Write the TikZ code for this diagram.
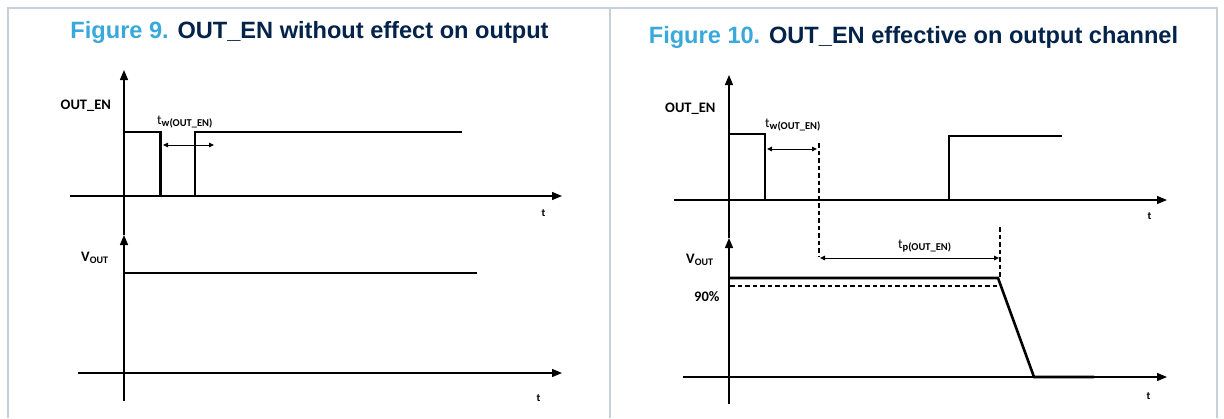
\documentclass[tikz,border=0pt]{standalone}
\usepackage{fontspec}
\setmainfont{Liberation Sans}
\newfontfamily\calib{Carlito}
\usetikzlibrary{arrows.meta}
\definecolor{stblue}{HTML}{39A9DC}
\definecolor{stnavy}{HTML}{03234B}
\definecolor{framec}{HTML}{C5D0D7}
\newcommand{\subtxt}[1]{\raisebox{-2.5pt}{\fontsize{10.5}{10}\selectfont\bfseries #1}}
\newcommand{\voutsub}{\raisebox{-2pt}{\fontsize{10}{10}\selectfont\bfseries OUT}}
\begin{document}
\begin{tikzpicture}[x=1pt,y=-1pt,
 axis/.style={line width=1.3pt,-{Triangle[length=10pt,width=8pt]}},
 sig/.style={line width=2.6pt,line join=miter},
 dimarrow/.style={line width=1pt,{Triangle[length=5pt,width=4.5pt]}-{Triangle[length=5pt,width=4.5pt]}},
 dsh/.style={line width=1.2pt,dash pattern=on 4.5pt off 3pt},
 frameline/.style={draw=framec,line width=1.8pt},
 ttl/.style={font=\fontsize{23.6}{26}\selectfont\bfseries,anchor=base,inner sep=0pt},
 lbl/.style={font=\calib\bfseries\fontsize{14.5}{15}\selectfont,anchor=base west,inner sep=0pt},
 tl/.style={font=\calib\bfseries\fontsize{11}{12}\selectfont,anchor=base,inner sep=0pt},
 tim/.style={font=\calib\fontsize{13.5}{14}\selectfont,anchor=base west,inner sep=0pt},
]
\useasboundingbox[fill=white] (0,0) rectangle (1224,418);
% frame
\draw[frameline] (8,418) -- (8,8) -- (1217,8) -- (1217,418);
\draw[draw=framec,line width=1.3pt] (610,8) -- (610,418);

% ===== Figure 9 =====
\node[ttl] (title9) at (309.5,38) {\textcolor{stblue}{Figure 9.} \textcolor{stnavy}{OUT\_EN without effect on output}};
\coordinate (a9top) at (124,70);
\coordinate (a9mid) at (124,235);
\coordinate (a9bot) at (124,401);
\coordinate (t9s) at (70,196);
\coordinate (t9e) at (562,196);
\coordinate (b9s) at (78,373);
\coordinate (b9e) at (562,373);
\draw[axis] (a9mid) -- (a9top);
\draw[axis] (a9bot) -- (a9mid);
\draw[axis] (t9s) -- (t9e);
\draw[axis] (b9s) -- (b9e);
\node[lbl] (en9) at (60.5,109) {OUT\_EN};
\node[lbl] (v9) at (81,261) {V\voutsub};
\node[tl] (tu9) at (543.5,216) {t};
\node[tl] (tb9) at (538.5,401) {t};
\node[tim] (tw9) at (157,124) {t\subtxt{w(OUT\_EN)}};
\coordinate (s9a) at (124,132);
\coordinate (s9b) at (160.5,132);
\coordinate (s9c) at (160.5,196);
\coordinate (s9d) at (195,196);
\coordinate (s9e) at (195,132);
\coordinate (s9f) at (462,132);
\draw[sig] (s9a) -- (s9b) -- (s9c) -- (s9d) -- (s9e) -- (s9f);
\coordinate (d9a) at (163,145);
\coordinate (d9b) at (214,145);
\draw[dimarrow] (d9a) -- (d9b);
\coordinate (v9a) at (124,273);
\coordinate (v9b) at (477,273);
\draw[sig] (v9a) -- (v9b);

% ===== Figure 10 =====
\node[ttl] (title10) at (913.5,43) {\textcolor{stblue}{Figure 10.} \textcolor{stnavy}{OUT\_EN effective on output channel}};
\coordinate (a10top) at (729,75);
\coordinate (a10mid) at (729,238);
\coordinate (a10bot) at (729,404);
\coordinate (t10s) at (674,200);
\coordinate (t10e) at (1167,200);
\coordinate (b10s) at (683,377);
\coordinate (b10e) at (1167,377);
\draw[axis] (a10mid) -- (a10top);
\draw[axis] (a10bot) -- (a10mid);
\draw[axis] (t10s) -- (t10e);
\draw[axis] (b10s) -- (b10e);
\node[lbl] (en10) at (665,112) {OUT\_EN};
\node[lbl] (v10) at (686,263) {V\voutsub};
\node[lbl] (p90) at (694,301) {90\%};
\node[tl] (tu10) at (1149.5,219) {t};
\node[tl] (tb10) at (1148.5,399) {t};
\node[tim] (tw10) at (765,127) {t\subtxt{w(OUT\_EN)}};
\node[tim] (tp10) at (898,248) {t\subtxt{p(OUT\_EN)}};
\coordinate (s10a) at (729,134);
\coordinate (s10b) at (765,134);
\coordinate (s10c) at (765,200);
\coordinate (s10d) at (949,200);
\coordinate (s10e) at (949,136);
\coordinate (s10f) at (1062,136);
\draw[sig] (s10a) -- (s10b) -- (s10c) -- (s10d) -- (s10e) -- (s10f);
\coordinate (d10a) at (767,149);
\coordinate (d10b) at (817,149);
\draw[dimarrow] (d10a) -- (d10b);
\coordinate (k1top) at (819,143);
\coordinate (k1bot) at (819,257);
\draw[dsh] (k1top) -- (k1bot);
\coordinate (k2top) at (1000,227);
\coordinate (k2bot) at (1000,277);
\draw[dsh] (k2top) -- (k2bot);
\coordinate (p10a) at (820,258);
\coordinate (p10b) at (999,258);
\draw[dimarrow] (p10a) -- (p10b);
\coordinate (v10a) at (729,278);
\coordinate (v10b) at (998,278);
\coordinate (v10c) at (1034,377);
\coordinate (v10d) at (1094,377);
\draw[sig] (v10a) -- (v10b) -- (v10c) -- (v10d);
\coordinate (n90a) at (730,286);
\coordinate (n90b) at (999,286);
\draw[dsh] (n90a) -- (n90b);
\end{tikzpicture}
\end{document}
